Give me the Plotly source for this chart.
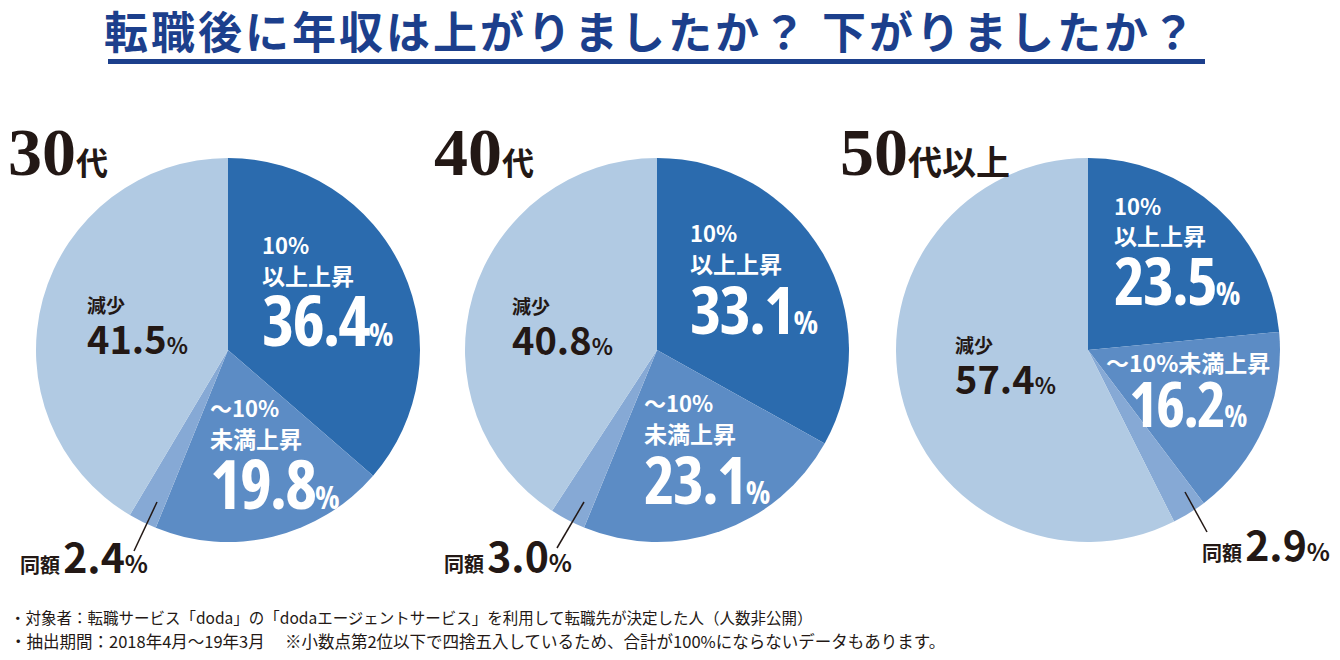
import plotly.graph_objects as go

# ---- data ----
groups = ["30代", "40代", "50代以上"]
categories = ["10%以上上昇", "～10%未満上昇", "同額", "減少"]
values_30 = [36.4, 19.8, 2.4, 41.5]
values_40 = [33.1, 23.1, 3.0, 40.8]
values_50 = [23.5, 16.2, 2.9, 57.4]
all_values = [values_30, values_40, values_50]

title_text = "転職後に年収は上がりましたか？ 下がりましたか？"
notes = [
    "・対象者：転職サービス「doda」の「dodaエージェントサービス」を利用して転職先が決定した人（人数非公開）",
    "・抽出期間：2018年4月～19年3月　 ※小数点第2位以下で四捨五入しているため、合計が100%にならないデータもあります。",
]

colors = ["#2b6bae", "#5c8cc5", "#86a9d5", "#b1cae3"]
OFF = 8
W, H = 1340 - OFF, 660 - OFF
CJK = "Noto Sans CJK JP"
DARK = "#231815"
COND = "Open Sans"
ASC = 1.16  # ascent ratio of the CJK font


def px(x):
    return (x - OFF) / W


def py(y):
    return 1 - (y - OFF) / H


fig = go.Figure()

centers = [228, 657, 1088]
cy, r = 350, 192
for g, vals, cx in zip(groups, all_values, centers):
    fig.add_trace(go.Pie(
        values=vals, labels=categories, name=g,
        sort=False, direction="clockwise", rotation=0,
        marker=dict(colors=colors, line=dict(width=0)),
        textinfo="none", showlegend=False, hole=0,
        domain=dict(x=[px(cx - r), px(cx + r)], y=[py(cy + r), py(cy - r)]),
    ))

anns = []


def ann(x, y, text, size, color=DARK, family=CJK, anchor="left", yanchor="middle", align="left"):
    anns.append(dict(x=px(x), y=py(y), xref="paper", yref="paper", text=text,
                     showarrow=False, xanchor=anchor, yanchor=yanchor, align=align,
                     font=dict(size=size, color=color, family=family)))


def sm(t, s):
    return f"<b><span style='font-size:{s}px'>{t}</span></b>"


def big(num, size, pct):
    st = f"font-family:{COND};font-stretch:condensed;letter-spacing:-2px"
    return (f"<b><span style='{st};font-size:{size}px'>{num}</span></b>"
            f"<b><span style='font-family:{COND};font-stretch:condensed;font-size:{pct}px'>%</span></b>")


def mid(num, size, pct):
    return f"<b><span style='font-size:{size}px'>{num}</span></b><b><span style='font-size:{pct}px'>%</span></b>"


def block(x, b1, f1, lines, spacing, color, align="left"):
    # text block whose first baseline sits at b1 (first line font f1)
    top = b1 - ASC * f1 - 2
    ann(x, top, "<br>".join(lines), spacing / 1.3, color, CJK, "left", "top", align)


def fmt(v):
    return f"{v:.1f}"


# title
ann(651, 30, "<b><span style='letter-spacing:3px'>" + title_text + "</span></b>", 44, "#1c3f8c", CJK, "center")

# group headings
heads = [(6, "30", "代", 32), (432, "40", "代", 32), (838, "50", "代以上", 34)]
for x, n, s, fs in heads:
    ann(x, 152, f"<b>{n}</b><b><span style='font-size:{fs}px;font-family:Noto Sans CJK JP'>{s}</span></b>",
        68, DARK, "Liberation Serif, DejaVu Serif", "left")

v30, v40, v50 = values_30, values_40, values_50
W_ = "white"
GAP = "<span style='font-size:14px'> </span>"
# 30代
block(260, 254, 22, [sm("10%", 22), sm("以上上昇", 23), "", big(fmt(v30[0]), 69, 32)], 30.5, W_)
block(208, 417, 22, [sm("～10%", 22), sm("未満上昇", 23), "", big(fmt(v30[1]), 68, 32)], 30.5, W_)
block(85, 313.5, 19, [sm("減少", 19), mid(fmt(v30[3]), 38, 22)], 41, DARK)
block(18, 573, 41, [sm("同額", 20) + GAP + mid(fmt(v30[2]), 41, 24)], 41, DARK)

# 40代
block(688, 242, 22, [sm("10%", 22), sm("以上上昇", 23), "", big(fmt(v40[0]), 67, 32)], 30.5, W_)
block(642, 412, 22, [sm("～10%", 22), sm("未満上昇", 23), "", big(fmt(v40[1]), 66, 32)], 30.5, W_)
block(510, 314, 19, [sm("減少", 19), mid(fmt(v40[3]), 38, 22)], 41, DARK)
block(442, 572, 41, [sm("同額", 20) + GAP + mid(fmt(v40[2]), 41, 24)], 41, DARK)

# 50代以上
block(1112, 215, 22, [sm("10%", 22), sm("以上上昇", 23), "", big(fmt(v50[0]), 66, 32)], 30, W_)
block(1104, 372, 23, [sm("～10%未満上昇", 23), "", big(fmt(v50[1]), 62, 30)], 27.6, W_, "center")
block(953, 353, 19, [sm("減少", 19), mid(fmt(v50[3]), 38, 22)], 40.5, DARK)
block(1200, 561, 41, [sm("同額", 20) + GAP + mid(fmt(v50[2]), 41, 24)], 41, DARK)

# footnotes
ann(8, 617, notes[0], 15.5, DARK)
ann(8, 641, notes[1], 16.5, DARK)

shapes = [
    dict(type="rect", xref="paper", yref="paper", x0=px(108), x1=px(1205), y0=py(64), y1=py(59),
         fillcolor="#1c3f8c", line=dict(width=0)),
    dict(type="line", xref="paper", yref="paper", x0=px(134), y0=py(551), x1=px(157), y1=py(502),
         line=dict(color=DARK, width=1.5)),
    dict(type="line", xref="paper", yref="paper", x0=px(557), y0=py(548), x1=px(584), y1=py(502),
         line=dict(color=DARK, width=1.5)),
    dict(type="line", xref="paper", yref="paper", x0=px(1185), y0=py(492), x1=px(1207), y1=py(532),
         line=dict(color=DARK, width=1.5)),
]

fig.update_layout(
    width=W, height=H, margin=dict(l=0, r=0, t=0, b=0),
    paper_bgcolor="white", plot_bgcolor="white",
    annotations=anns, shapes=shapes,
)

fig.write_html("out.html")
